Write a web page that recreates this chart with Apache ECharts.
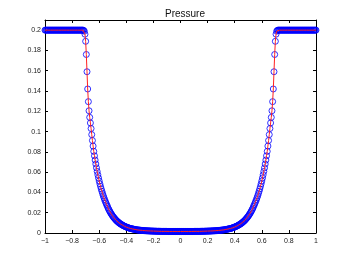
<!DOCTYPE html>
<html>
<head>
<meta charset="utf-8">
<script src="https://cdn.jsdelivr.net/npm/echarts@6/dist/echarts.min.js"></script>
<style>
  html, body { margin: 0; padding: 0; background: #fff; }
  #chart { width: 349px; height: 263px; }
</style>
</head>
<body>
<div id="chart"></div>
<script>
// grid of x positions: -1 .. 1 with spacing 0.005 (401 samples)
const xStart = -1
const xStep = 0.005

// pressure, one value per sample, left to right
const pressure = [
  // x = -1.000 .. -0.720
  0.2,0.2,0.2,0.2,0.2,0.2,0.2,0.2,0.2,0.2,
  0.2,0.2,0.2,0.2,0.2,0.2,0.2,0.2,0.2,0.2,
  0.2,0.2,0.2,0.2,0.2,0.2,0.2,0.2,0.2,0.2,
  0.2,0.2,0.2,0.2,0.2,0.2,0.2,0.2,0.2,0.2,
  0.2,0.2,0.2,0.2,0.2,0.2,0.2,0.2,0.2,0.2,
  0.2,0.2,0.2,0.2,0.2,0.2,0.2,
  // x = -0.715 .. -0.005
  0.1998,0.1990,0.1960,0.1890,0.1760,0.1590,0.1420,0.1295,0.1205,0.1140,0.1085,0.1030,
  0.0970,0.0912,0.0857,0.0805,0.0761,0.0719,0.0680,0.0642,0.0607,0.0574,0.0543,0.0513,
  0.0485,0.0459,0.0434,0.0411,0.0389,0.0368,0.0348,0.0329,0.0312,0.0295,0.0279,0.0265,
  0.0248,0.0234,0.0221,0.0209,0.0197,0.0186,0.0176,0.0166,0.0157,0.0149,0.0141,0.0133,
  0.0126,0.0119,0.0113,0.0107,0.0102,0.0096,0.0092,0.0087,0.0083,0.0079,0.0075,0.0071,
  0.0068,0.0065,0.0062,0.0059,0.0056,0.0054,0.0051,0.0049,0.0047,0.0045,0.0043,0.0042,
  0.0040,0.0039,0.0037,0.0036,0.0035,0.0033,0.0032,0.0031,0.0030,0.0029,0.0029,0.0028,
  0.0027,0.0026,0.0026,0.0025,0.0024,0.0024,0.0023,0.0023,0.0022,0.0022,0.0021,0.0021,
  0.0021,0.0020,0.0020,0.0020,0.0019,0.0019,0.0019,0.0019,0.0018,0.0018,0.0018,0.0018,
  0.0017,0.0017,0.0017,0.0017,0.0017,0.0017,0.0016,0.0016,0.0016,0.0016,0.0016,0.0016,
  0.0016,0.0016,0.0016,0.0016,0.0015,0.0015,0.0015,0.0015,0.0015,0.0015,0.0015,0.0015,
  0.0015,0.0015,0.0015,0.0015,0.0015,0.0015,0.0015,0.0015,0.0015,0.0015,0.0015,
  // x = 0
  0.0015,
  // x = 0.005 .. 0.715
  0.0015,0.0015,0.0015,0.0015,0.0015,0.0015,0.0015,0.0015,0.0015,0.0015,0.0015,
  0.0015,0.0015,0.0015,0.0015,0.0015,0.0015,0.0015,0.0015,0.0016,0.0016,0.0016,0.0016,
  0.0016,0.0016,0.0016,0.0016,0.0016,0.0016,0.0017,0.0017,0.0017,0.0017,0.0017,0.0017,
  0.0018,0.0018,0.0018,0.0018,0.0019,0.0019,0.0019,0.0019,0.0020,0.0020,0.0020,0.0021,
  0.0021,0.0021,0.0022,0.0022,0.0023,0.0023,0.0024,0.0024,0.0025,0.0026,0.0026,0.0027,
  0.0028,0.0029,0.0029,0.0030,0.0031,0.0032,0.0033,0.0035,0.0036,0.0037,0.0039,0.0040,
  0.0042,0.0043,0.0045,0.0047,0.0049,0.0051,0.0054,0.0056,0.0059,0.0062,0.0065,0.0068,
  0.0071,0.0075,0.0079,0.0083,0.0087,0.0092,0.0096,0.0102,0.0107,0.0113,0.0119,0.0126,
  0.0133,0.0141,0.0149,0.0157,0.0166,0.0176,0.0186,0.0197,0.0209,0.0221,0.0234,0.0248,
  0.0265,0.0279,0.0295,0.0312,0.0329,0.0348,0.0368,0.0389,0.0411,0.0434,0.0459,0.0485,
  0.0513,0.0543,0.0574,0.0607,0.0642,0.0680,0.0719,0.0761,0.0805,0.0857,0.0912,0.0970,
  0.1030,0.1085,0.1140,0.1205,0.1295,0.1420,0.1590,0.1760,0.1890,0.1960,0.1990,0.1998,
  // x = 0.720 .. 1.000
  0.2,0.2,0.2,0.2,0.2,0.2,0.2,0.2,0.2,0.2,
  0.2,0.2,0.2,0.2,0.2,0.2,0.2,0.2,0.2,0.2,
  0.2,0.2,0.2,0.2,0.2,0.2,0.2,0.2,0.2,0.2,
  0.2,0.2,0.2,0.2,0.2,0.2,0.2,0.2,0.2,0.2,
  0.2,0.2,0.2,0.2,0.2,0.2,0.2,0.2,0.2,0.2,
  0.2,0.2,0.2,0.2,0.2,0.2,0.2
]

const points = pressure.map((p, i) => [+(xStart + i * xStep).toFixed(3), p])

const labelFont = { fontFamily: 'Liberation Sans, Arial, sans-serif', fontSize: 7, color: '#222' }
const minusSign = v => (v < 0 ? '\u2212' + Math.abs(v) : String(v))

const boxAxis = {
  axisLine: { show: true, onZero: false, lineStyle: { color: '#000', width: 1 } },
  axisTick: { show: true, inside: true, length: 3, lineStyle: { color: '#000' } },
  splitLine: { show: false }
}

let myChart = echarts.init(document.getElementById('chart'), null, { renderer: 'canvas' })
myChart.setOption({
  animation: false,
  backgroundColor: '#fff',
  title: {
    text: 'Pressure',
    left: 180,
    textAlign: 'center',
    top: 4,
    textStyle: { fontFamily: 'Liberation Sans, Arial, sans-serif', fontSize: 10, fontWeight: 'normal', color: '#111' }
  },
  grid: { left: 45, right: 33, top: 20, bottom: 30 },
  xAxis: [
    Object.assign({
      type: 'value', position: 'bottom', min: -1, max: 1, interval: 0.2,
      axisLabel: Object.assign({ margin: 5, formatter: minusSign }, labelFont)
    }, boxAxis),
    Object.assign({
      type: 'value', position: 'top', min: -1, max: 1, interval: 0.2,
      axisLabel: { show: false }
    }, boxAxis)
  ],
  yAxis: [
    Object.assign({
      type: 'value', position: 'left', min: 0, max: 0.21, interval: 0.02,
      axisLabel: Object.assign({ margin: 4, showMaxLabel: false }, labelFont)
    }, boxAxis),
    Object.assign({
      type: 'value', position: 'right', min: 0, max: 0.21, interval: 0.02,
      axisLabel: { show: false }
    }, boxAxis)
  ],
  series: [
    {
      name: 'samples',
      type: 'scatter',
      data: points,
      symbol: 'circle',
      symbolSize: 6,
      itemStyle: { color: 'rgba(0,0,0,0)', borderColor: '#0000ff', borderWidth: 1 },
      z: 2
    },
    {
      name: 'pressure',
      type: 'line',
      data: points,
      showSymbol: false,
      lineStyle: { color: '#ff2020', width: 1 },
      z: 3
    }
  ]
})
</script>
</body>
</html>
